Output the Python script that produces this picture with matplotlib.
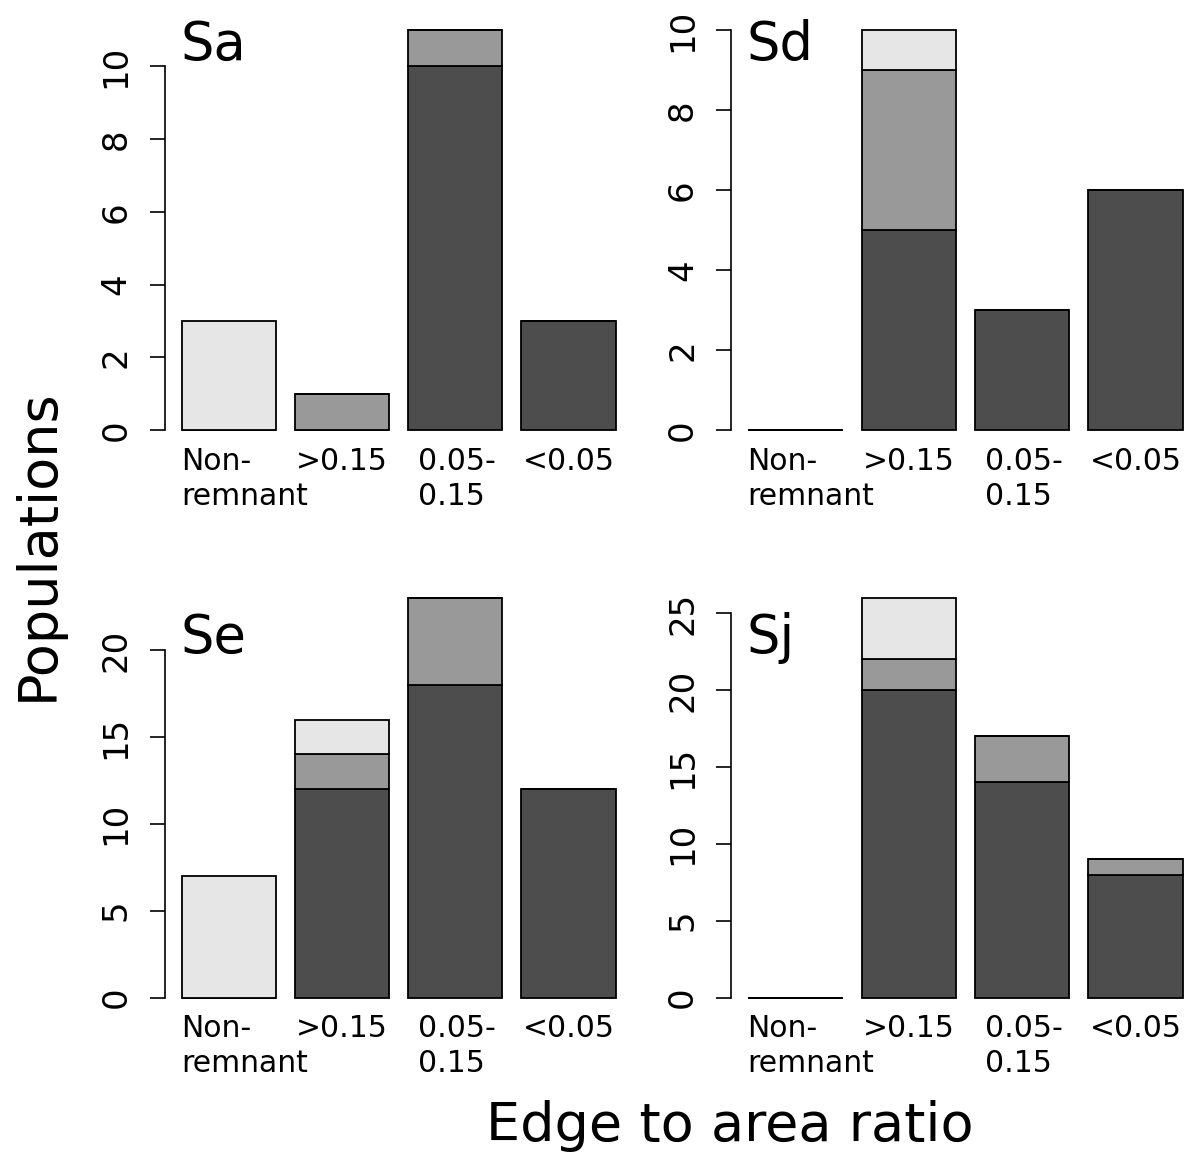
import matplotlib
matplotlib.use("Agg")
import matplotlib.pyplot as plt
import matplotlib.transforms as mtransforms
import numpy as np

plt.rcParams['font.family'] = ['DejaVu Sans']

categories = ["Non-\nremnant", ">0.15", "0.05-\n0.15", "<0.05"]
panel_names = ["Sa", "Sd", "Se", "Sj"]

# stacked counts: dark (bottom), mid, light (top)
sa_dark = [0, 0, 10, 3]
sa_mid = [0, 1, 1, 0]
sa_light = [3, 0, 0, 0]

sd_dark = [0, 5, 3, 6]
sd_mid = [0, 4, 0, 0]
sd_light = [0, 1, 0, 0]

se_dark = [0, 12, 18, 12]
se_mid = [0, 2, 5, 0]
se_light = [7, 2, 0, 0]

sj_dark = [0, 20, 14, 8]
sj_mid = [0, 2, 3, 1]
sj_light = [0, 4, 0, 0]

sa_ticks = [0, 2, 4, 6, 8, 10]
sd_ticks = [0, 2, 4, 6, 8, 10]
se_ticks = [0, 5, 10, 15, 20]
sj_ticks = [0, 5, 10, 15, 20, 25]

panels = [
    ("Sa", sa_dark, sa_mid, sa_light, sa_ticks),
    ("Sd", sd_dark, sd_mid, sd_light, sd_ticks),
    ("Se", se_dark, se_mid, se_light, se_ticks),
    ("Sj", sj_dark, sj_mid, sj_light, sj_ticks),
]

colors = ["#4D4D4D", "#999999", "#E6E6E6"]

W, H = 1187, 1156
fig = plt.figure(figsize=(W / 100, H / 100), dpi=100)

# axes rectangles in pixels (x0, x1, ytop, ybottom)
rects = [
    (164.5, 633.0, 14.0, 446.0),
    (731.0, 1200.0, 14.0, 446.0),
    (164.5, 633.0, 582.0, 1013.5),
    (731.0, 1200.0, 582.0, 1013.5),
]
label_baselines = [60, 60, 653, 653]

width = 1.0
space = 0.2
centers = np.array([space + width / 2 + i * (width + space) for i in range(4)])
lefts = centers - width / 2
# pixel offsets of multi-line label left edges from bar left edges
ml_offsets = {0: -1, 2: 10}
line_step_px = 35

for (name, dark, mid, light, ticks), (x0, x1, yt, yb), lb in zip(panels, rects, label_baselines):
    ax = fig.add_axes([x0 / W, 1 - yb / H, (x1 - x0) / W, (yb - yt) / H])
    bottom = np.zeros(4)
    for vals, col in zip([dark, mid, light], colors):
        ax.bar(centers, vals, width=width, bottom=bottom, color=col,
               edgecolor="black", linewidth=1.3)
        bottom = bottom + np.array(vals)
    total_max = bottom.max()
    xl0 = space - 0.04 * (4 * (width + space) - space)
    xl1 = 4 * (width + space) + 0.04 * (4 * (width + space) - space)
    ax.set_xlim(xl0, xl1)
    ax.set_ylim(-0.04 * total_max, total_max * 1.04)
    for s in ["top", "right", "bottom"]:
        ax.spines[s].set_visible(False)
    ax.spines["left"].set_bounds(ticks[0], ticks[-1])
    ax.spines["left"].set_linewidth(1.2)
    ax.set_xticks([])
    ax.set_yticks(ticks)
    ax.set_yticklabels([str(t) for t in ticks])
    ax.tick_params(axis="y", length=11, width=1.2, pad=12, labelsize=24.5)
    for lab in ax.get_yticklabels():
        lab.set_rotation(90)
        lab.set_va("center")
        lab.set_ha("right")
    ax.patch.set_visible(False)

    trans = mtransforms.blended_transform_factory(ax.transData, ax.transAxes)
    for i, cat in enumerate(categories):
        lines = cat.split("\n")
        for j, line in enumerate(lines):
            dy = -j * line_step_px
            if len(lines) > 1:
                t = trans + mtransforms.ScaledTranslation(ml_offsets[i] / 100, dy / 100,
                                                          fig.dpi_scale_trans)
                ax.text(lefts[i], -0.002, line, transform=t, ha="left", va="top",
                        fontsize=21.5)
            else:
                t = trans + mtransforms.ScaledTranslation(0, dy / 100, fig.dpi_scale_trans)
                ax.text(centers[i], -0.002, line, transform=t, ha="center", va="top",
                        fontsize=21.5)

    fig.text((x0 + 16) / W, 1 - lb / H, name, fontsize=38, ha="left",
             va="baseline")

fig.text(730 / W, 1 - 1141 / H, "Edge to area ratio", fontsize=39,
         ha="center", va="baseline")
fig.text(38 / W, 1 - 545 / H, "Populations", fontsize=39, rotation=90,
         ha="center", va="center")

fig.savefig("out.png", dpi=100)
